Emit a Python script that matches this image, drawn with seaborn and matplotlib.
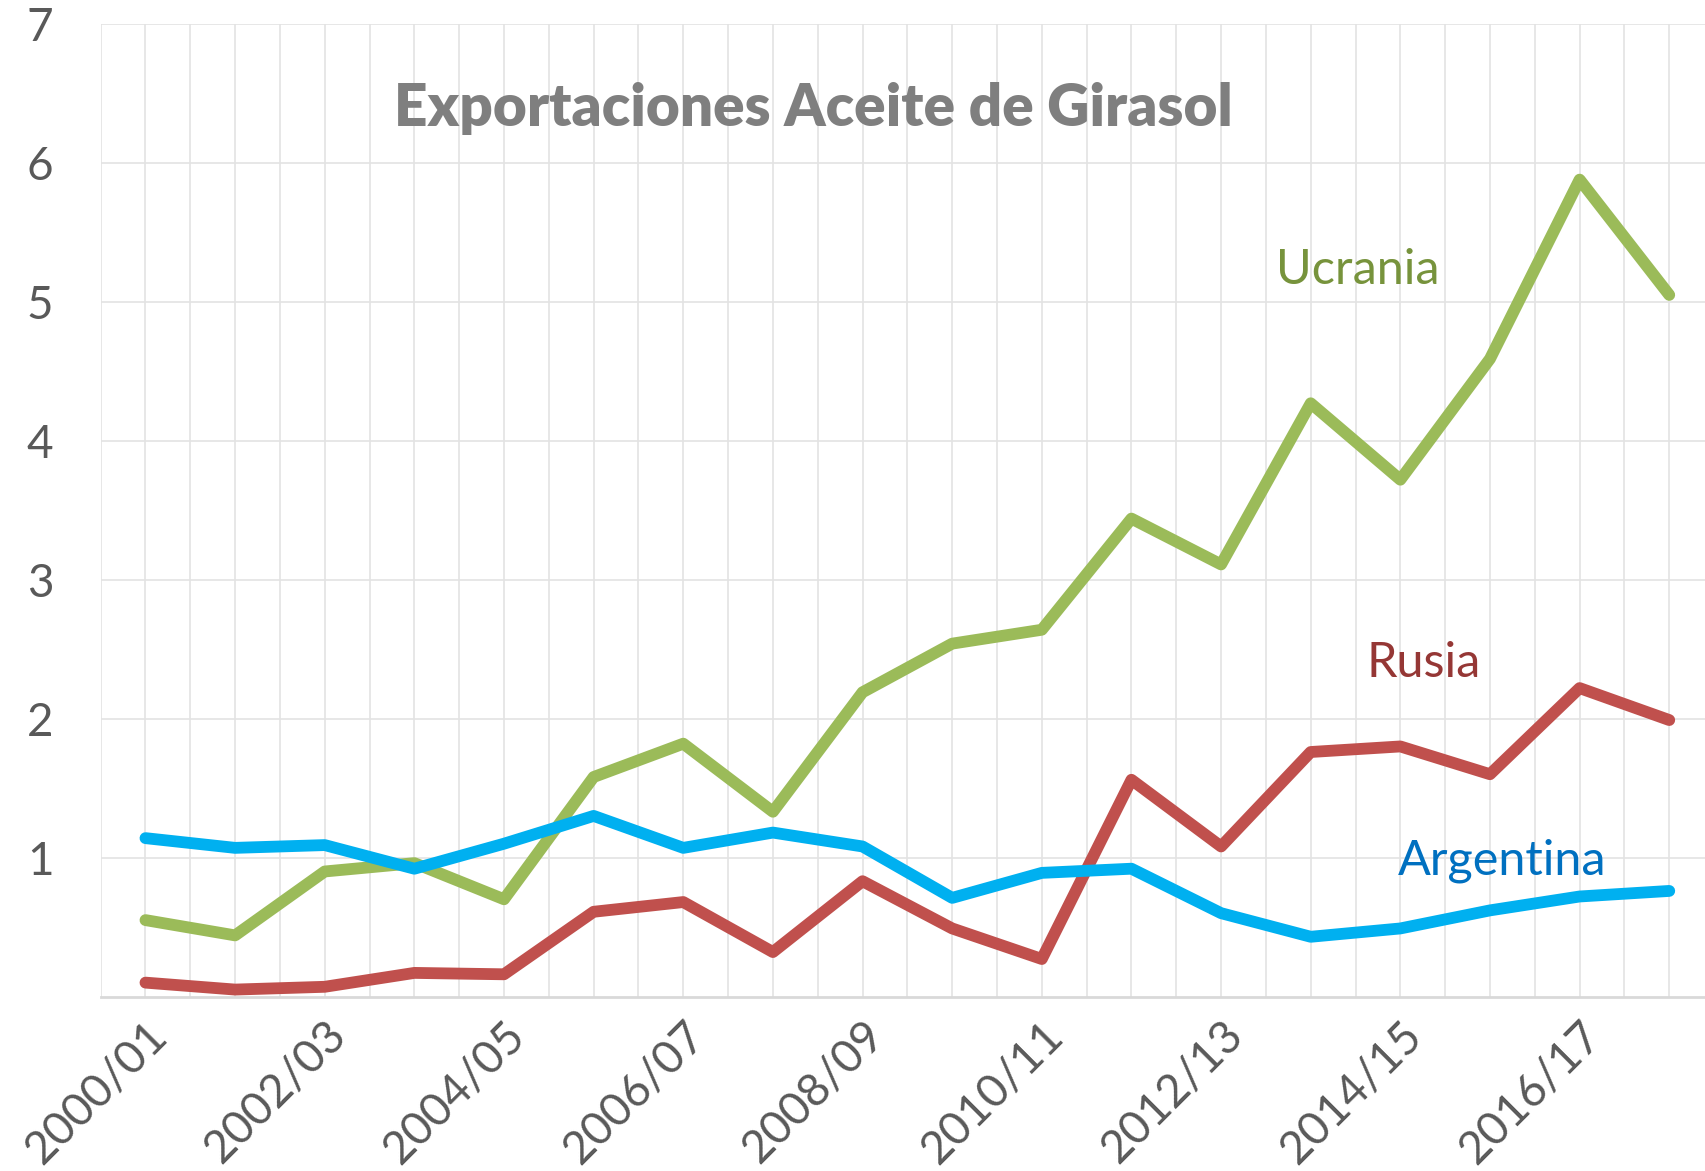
import numpy as np
import pandas as pd
import seaborn as sns
import matplotlib.pyplot as plt
from matplotlib.ticker import MultipleLocator

campaigns = ['2000/01', '2001/02', '2002/03', '2003/04', '2004/05', '2005/06',
             '2006/07', '2007/08', '2008/09', '2009/10', '2010/11', '2011/12',
             '2012/13', '2013/14', '2014/15', '2015/16', '2016/17', '2017/18']

ucrania = [0.55, 0.44, 0.90, 0.96, 0.70, 1.58, 1.82, 1.33, 2.19, 2.54, 2.64, 3.44,
           3.11, 4.27, 3.72, 4.59, 5.88, 5.05]
rusia = [0.10, 0.05, 0.07, 0.17, 0.16, 0.61, 0.68, 0.32, 0.83, 0.49, 0.27, 1.56,
         1.08, 1.76, 1.80, 1.60, 2.22, 1.99]
argentina = [1.14, 1.07, 1.09, 0.92, 1.10, 1.30, 1.07, 1.18, 1.08, 0.71, 0.89, 0.92,
             0.60, 0.43, 0.49, 0.62, 0.72, 0.76]

series = {'Ucrania': ucrania, 'Rusia': rusia, 'Argentina': argentina}
line_colors = {'Ucrania': '#9BBB59', 'Rusia': '#C0504D', 'Argentina': '#00B0F0'}
label_colors = {'Ucrania': '#77933C', 'Rusia': '#953735', 'Argentina': '#0070C0'}

df = pd.DataFrame([
    {'idx': i, 'Campaña': c, 'Pais': name, 'Valor': vals[i]}
    for name, vals in series.items() for i, c in enumerate(campaigns)
])

sns.set_theme(style='white')
plt.rcParams['font.family'] = ['Lato', 'DejaVu Sans']

fig = plt.figure(figsize=(17.06, 11.71), dpi=100)
ax = fig.add_axes([0.059, 0.149, 0.941, 0.8305])

sns.lineplot(data=df, x='idx', y='Valor', hue='Pais', palette=line_colors,
             linewidth=8.5, legend=False, ax=ax, solid_capstyle='round')

ax.set_xlim(-0.5, 17.41)
ax.set_ylim(0, 7)
ax.xaxis.set_minor_locator(MultipleLocator(0.5))
ax.set_xticks(range(0, len(campaigns), 2))
ax.set_xticklabels(campaigns[::2], rotation=45, ha='right', rotation_mode='anchor')
ax.set_yticks(range(1, 8))
ax.grid(True, which='both', axis='x', color='#E3E3E3', linewidth=1.2)
ax.grid(True, which='major', axis='y', color='#E3E3E3', linewidth=1.2)
ax.set_axisbelow(True)
ax.tick_params(axis='both', which='both', length=0, labelsize=33, labelcolor='#595959')
ax.tick_params(axis='y', pad=34)
ax.tick_params(axis='x', pad=12)
ax.set_xlabel('')
ax.set_ylabel('')
for side in ['top', 'right', 'left']:
    ax.spines[side].set_visible(False)
ax.spines['bottom'].set_color('#D9D9D9')
ax.spines['bottom'].set_linewidth(2)

ax.text(0.444, 0.913, 'Exportaciones Aceite de Girasol', transform=ax.transAxes,
        ha='center', va='center', fontsize=42, fontweight='heavy', color='#7F7F7F')

ax.text(13.52, 5.23, 'Ucrania', ha='center', va='center', fontsize=35, color=label_colors['Ucrania'])
ax.text(14.26, 2.40, 'Rusia', ha='center', va='center', fontsize=35, color=label_colors['Rusia'])
ax.text(15.13, 0.98, 'Argentina', ha='center', va='center', fontsize=35, color=label_colors['Argentina'])

fig.savefig('out.png', dpi=100)
